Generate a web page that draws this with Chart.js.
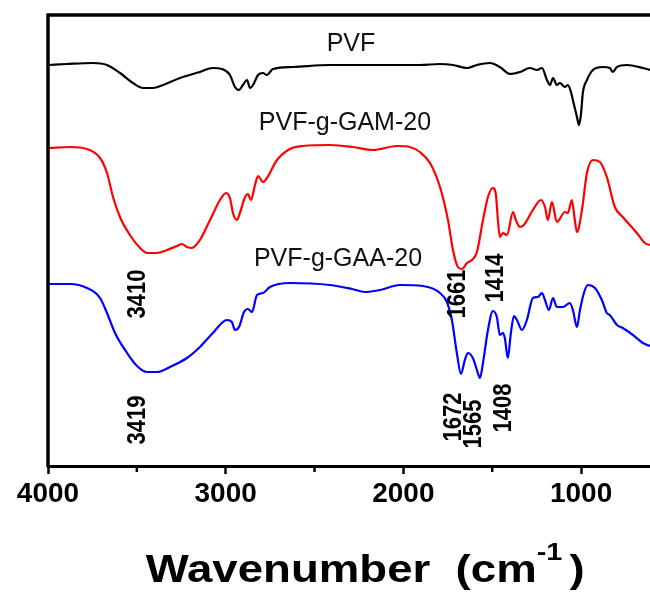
<!DOCTYPE html>
<html>
<head>
<meta charset="utf-8">
<script src="https://cdn.jsdelivr.net/npm/chart.js@4.4.1/dist/chart.umd.min.js"></script>
<style>
  html, body { margin: 0; padding: 0; background: #fff; }
  #wrap { width: 650px; height: 595px; }
</style>
</head>
<body>
<div id="wrap"><canvas id="ftir" width="650" height="595"></canvas></div>
<script>
  // FTIR spectra, transmittance in arbitrary units (curves offset vertically)
  const pvfWavenumber = [3994, 3893, 3747, 3668, 3595, 3522, 3465, 3409, 3353, 3257, 3145, 3072, 3021, 2976, 2948, 2925, 2903, 2880, 2863, 2846, 2818, 2790, 2768, 2734, 2621, 2413, 1907, 1794, 1721, 1642, 1586, 1513, 1457, 1400, 1344, 1288, 1248, 1220, 1192, 1175, 1158, 1136, 1119, 1091, 1074, 1057, 1046, 1023, 1012, 1001, 990, 967, 933, 877, 838, 821, 798, 742, 652, 612];
  const pvfSignal = [401, 402, 403, 401, 393, 383, 378, 378, 381, 388, 394, 398, 397, 391, 379, 376, 381, 386, 378, 381, 391, 393, 391, 397, 399, 401, 401, 402, 401, 398, 401, 403, 399, 392, 394, 398, 396, 398, 386, 381, 388, 381, 383, 379, 381, 374, 366, 349, 341, 351, 373, 386, 396, 399, 398, 394, 399, 401, 398, 396];

  const gamWavenumber = [3994, 3876, 3781, 3707, 3668, 3634, 3595, 3539, 3482, 3443, 3387, 3330, 3274, 3246, 3218, 3190, 3145, 3088, 3032, 2998, 2976, 2959, 2937, 2920, 2891, 2875, 2858, 2835, 2818, 2790, 2768, 2711, 2638, 2565, 2413, 2284, 2171, 2036, 1963, 1907, 1850, 1794, 1749, 1721, 1693, 1670, 1642, 1614, 1586, 1552, 1524, 1496, 1479, 1468, 1457, 1440, 1417, 1383, 1367, 1344, 1322, 1271, 1226, 1203, 1187, 1164, 1136, 1091, 1074, 1052, 1035, 1023, 995, 967, 933, 894, 855, 810, 765, 686, 641, 612];
  const gamSignal = [318, 319, 317, 308, 293, 269, 249, 231, 218, 213, 213, 216, 220, 222, 219, 218, 226, 246, 266, 273, 268, 253, 246, 253, 269, 272, 266, 281, 290, 284, 288, 306, 317, 320, 321, 319, 316, 320, 319, 314, 303, 279, 246, 216, 199, 197, 203, 206, 214, 246, 269, 278, 271, 246, 229, 233, 231, 254, 246, 239, 241, 256, 266, 259, 246, 264, 244, 254, 253, 266, 246, 234, 256, 293, 306, 304, 289, 259, 249, 233, 223, 221];

  const gaaWavenumber = [3994, 3876, 3781, 3707, 3668, 3623, 3555, 3499, 3443, 3387, 3314, 3218, 3145, 3072, 2993, 2965, 2948, 2925, 2897, 2875, 2852, 2824, 2790, 2751, 2638, 2413, 2289, 2216, 2132, 2019, 1890, 1794, 1755, 1727, 1699, 1676, 1654, 1637, 1609, 1586, 1569, 1552, 1524, 1496, 1474, 1457, 1440, 1429, 1412, 1395, 1378, 1361, 1333, 1305, 1271, 1243, 1220, 1203, 1181, 1158, 1136, 1102, 1063, 1046, 1023, 1006, 984, 962, 922, 883, 855, 838, 798, 765, 708, 652, 612];
  const gaaSignal = [182, 182, 178, 168, 153, 133, 113, 100, 94, 94, 99, 108, 119, 133, 146, 144, 136, 139, 154, 157, 154, 171, 173, 179, 183, 181, 177, 174, 176, 181, 180, 173, 164, 146, 113, 92, 106, 113, 108, 96, 88, 103, 136, 155, 149, 131, 133, 128, 108, 133, 150, 146, 136, 146, 168, 169, 173, 166, 156, 168, 159, 159, 163, 156, 139, 156, 173, 181, 178, 166, 153, 151, 141, 138, 131, 123, 120];

  const majorTicks = [4000, 3000, 2000, 1000];
  const minorTicks = [3500, 2500, 1500];

  const seriesNames = ['PVF', 'PVF-g-GAM-20', 'PVF-g-GAA-20'];
  const nameWavenumber = [2295, 2329, 2368];
  const nameSignal = [422, 343, 207];

  const peakLabels = ['3410', '1661', '1414', '3419', '1672', '1565', '1408'];
  const peakWavenumber = [3496, 1696, 1479, 3494, 1718, 1606, 1434];
  const peakSignal = [172, 172, 188, 46, 49, 42, 58];

  const FONT = '"Liberation Sans", Arial, Helvetica, sans-serif';

  const toPoints = (xs, ys) => xs.map((x, i) => ({ x, y: ys[i] }));

  const spectrum = (label, xs, ys, color) => ({
    label,
    data: toPoints(xs, ys),
    borderColor: color,
    borderWidth: 2.2,
    pointRadius: 0,
    cubicInterpolationMode: 'monotone',
  });

  // frame, minor ticks, curve names, peak positions and axis title
  const decorations = {
    id: 'decorations',
    afterDraw(chart) {
      const { ctx, chartArea } = chart;
      const { x, y } = chart.scales;
      ctx.save();

      ctx.strokeStyle = '#000';
      ctx.lineWidth = 3.5;
      ctx.beginPath();
      ctx.moveTo(chartArea.left, chartArea.bottom + 1);
      ctx.lineTo(chartArea.left, chartArea.top);
      ctx.lineTo(chart.width, chartArea.top);
      ctx.stroke();

      ctx.lineWidth = 2.5;
      minorTicks.forEach((value) => {
        const px = x.getPixelForValue(value);
        ctx.beginPath();
        ctx.moveTo(px, chartArea.bottom);
        ctx.lineTo(px, chartArea.bottom + 6);
        ctx.stroke();
      });

      ctx.fillStyle = '#111';
      ctx.textAlign = 'center';
      ctx.textBaseline = 'middle';
      ctx.font = `25px ${FONT}`;
      seriesNames.forEach((name, i) => {
        ctx.fillText(name, x.getPixelForValue(nameWavenumber[i]), y.getPixelForValue(nameSignal[i]));
      });

      ctx.fillStyle = '#000';
      ctx.font = `bold 22px ${FONT}`;
      peakLabels.forEach((text, i) => {
        ctx.save();
        ctx.translate(x.getPixelForValue(peakWavenumber[i]), y.getPixelForValue(peakSignal[i]));
        ctx.rotate(-Math.PI / 2);
        ctx.scale(1, 1.2);
        ctx.fillText(text, 0, 0);
        ctx.restore();
      });

      // axis title, centred on the full (uncropped) axis
      const main = 'Wavenumber  (cm';
      const sup = '-1';
      const close = ')';
      ctx.textAlign = 'left';
      ctx.textBaseline = 'alphabetic';
      ctx.font = `bold 38px ${FONT}`;
      const wMain = ctx.measureText(main).width;
      const wClose = ctx.measureText(close).width;
      ctx.font = `bold 24px ${FONT}`;
      const wSup = ctx.measureText(sup).width;
      const total = wMain + wSup + 6 + wClose;
      ctx.translate(x.getPixelForValue(2215), chart.height - 13);
      ctx.scale(1.2, 1);
      let pos = -total / 2;
      ctx.font = `bold 38px ${FONT}`;
      ctx.fillText(main, pos, 0);
      pos += wMain;
      ctx.font = `bold 24px ${FONT}`;
      ctx.fillText(sup, pos, -22);
      pos += wSup + 6;
      ctx.font = `bold 38px ${FONT}`;
      ctx.fillText(close, pos, 0);

      ctx.restore();
    },
  };

  new Chart(document.getElementById('ftir'), {
    type: 'line',
    data: {
      datasets: [
        spectrum(seriesNames[0], pvfWavenumber, pvfSignal, '#000000'),
        spectrum(seriesNames[1], gamWavenumber, gamSignal, '#ff0000'),
        spectrum(seriesNames[2], gaaWavenumber, gaaSignal, '#0000ff'),
      ],
    },
    options: {
      responsive: false,
      animation: false,
      layout: { padding: { left: 48, top: 15, right: 0, bottom: 0 } },
      plugins: {
        legend: { display: false },
        tooltip: { enabled: false },
      },
      scales: {
        x: {
          type: 'linear',
          reverse: true,
          min: 612,
          max: 4000,
          afterBuildTicks(scale) {
            scale.ticks = majorTicks.map((value) => ({ value }));
          },
          afterFit(scale) {
            scale.height = 129;
          },
          ticks: {
            color: '#000',
            padding: 3,
            autoSkip: false,
            maxRotation: 0,
            font: { family: FONT, size: 28, weight: 'bold' },
            callback: (value) => String(value),
          },
          grid: {
            drawOnChartArea: false,
            tickLength: 8,
            tickWidth: 2.5,
            tickColor: '#000',
          },
          border: { color: '#000', width: 3 },
        },
        y: {
          display: false,
          min: 0,
          max: 451,
        },
      },
    },
    plugins: [decorations],
  });
</script>
</body>
</html>
